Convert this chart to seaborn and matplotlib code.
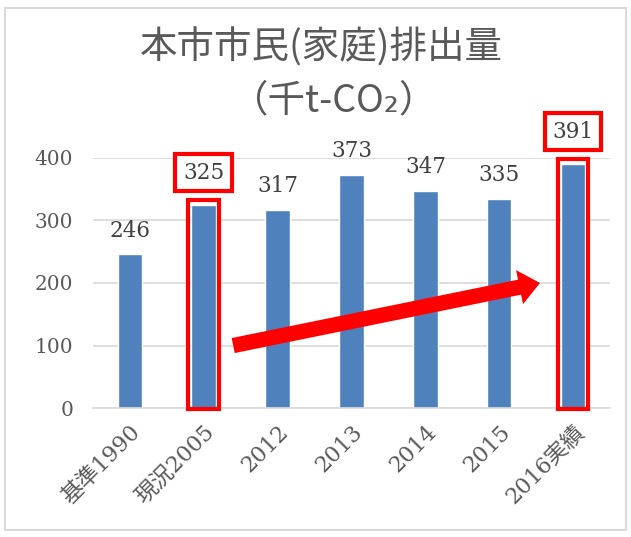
import numpy as np
from matplotlib import pyplot as plt
from matplotlib.patches import Rectangle
import seaborn as sns
import pandas as pd

categories = ['基準1990', '現況2005', '2012', '2013', '2014', '2015', '2016実績']
values = [246, 325, 317, 373, 347, 335, 391]
highlight = ['現況2005', '2016実績']
yticks = [0, 100, 200, 300, 400]

sns.set_style('white')
plt.rcParams['font.family'] = ['DejaVu Serif', 'Noto Sans CJK JP']

df = pd.DataFrame({'cat': categories, 'val': values})

fig = plt.figure(figsize=(6.31, 5.37), dpi=100)
ax = fig.add_axes([0.147, 0.240, 0.820, 0.466])
sns.barplot(data=df, x='cat', y='val', color='#4f81bd', width=0.33,
            saturation=1, ax=ax)

ax.set_ylim(0, 400)
ax.set_yticks(yticks)
ax.set_xlim(-0.5, len(categories) - 0.5)
ax.yaxis.grid(True, color='#d9d9d9', lw=1.2)
ax.set_axisbelow(True)
for s in ['top', 'right', 'left']:
    ax.spines[s].set_visible(False)
ax.spines['bottom'].set_color('#d9d9d9')
ax.spines['bottom'].set_linewidth(1.2)
ax.set_xlabel('')
ax.set_ylabel('')
ax.tick_params(axis='y', labelsize=14.5, labelcolor='#595959', length=0, pad=14)
ax.tick_params(axis='x', labelsize=16, labelcolor='#595959', length=0, pad=9)
for lab in ax.get_xticklabels():
    lab.set_rotation(45)
    lab.set_ha('right')
    lab.set_rotation_mode('anchor')

# data labels
for i, (c, v) in enumerate(zip(categories, values)):
    if c in highlight:
        ax.annotate(str(v), (i, v), xytext=(0, 23), textcoords='offset points',
                    ha='center', va='center', fontsize=15.5, color='#404040',
                    bbox=dict(boxstyle='square,pad=0.35', fc='white', ec='red', lw=3),
                    annotation_clip=False)
    else:
        ax.annotate(str(v), (i, v), xytext=(0, 17), textcoords='offset points',
                    ha='center', va='center', fontsize=15.5, color='#404040',
                    annotation_clip=False)

# red outline around highlighted bars
for p, c in zip(ax.patches, categories):
    if c in highlight:
        w = p.get_width()
        r = Rectangle((p.get_x() - 0.04, -2), w + 0.08, p.get_height() + 9,
                      fill=False, ec='red', lw=3, clip_on=False, zorder=5)
        ax.add_patch(r)

# trend arrow
ax.annotate('', xy=(5.55, 200), xytext=(1.4, 100),
            arrowprops=dict(width=11, headwidth=25, headlength=15,
                            color='red', lw=0), annotation_clip=False)

fig.text(0.51, 0.91, '本市市民(家庭)排出量', ha='center', va='center',
         fontsize=27, color='#595959', family=['Noto Sans CJK JP'])
fig.text(0.53, 0.813, '（千t-CO₂）', ha='center', va='center',
         fontsize=27, color='#595959', family=['Noto Sans CJK JP', 'DejaVu Sans'])

fig.patches.append(Rectangle((0.008, 0.013), 0.984, 0.972, transform=fig.transFigure,
                             fill=False, ec='#d9d9d9', lw=1.5))

fig.savefig('out.png', dpi=100)
